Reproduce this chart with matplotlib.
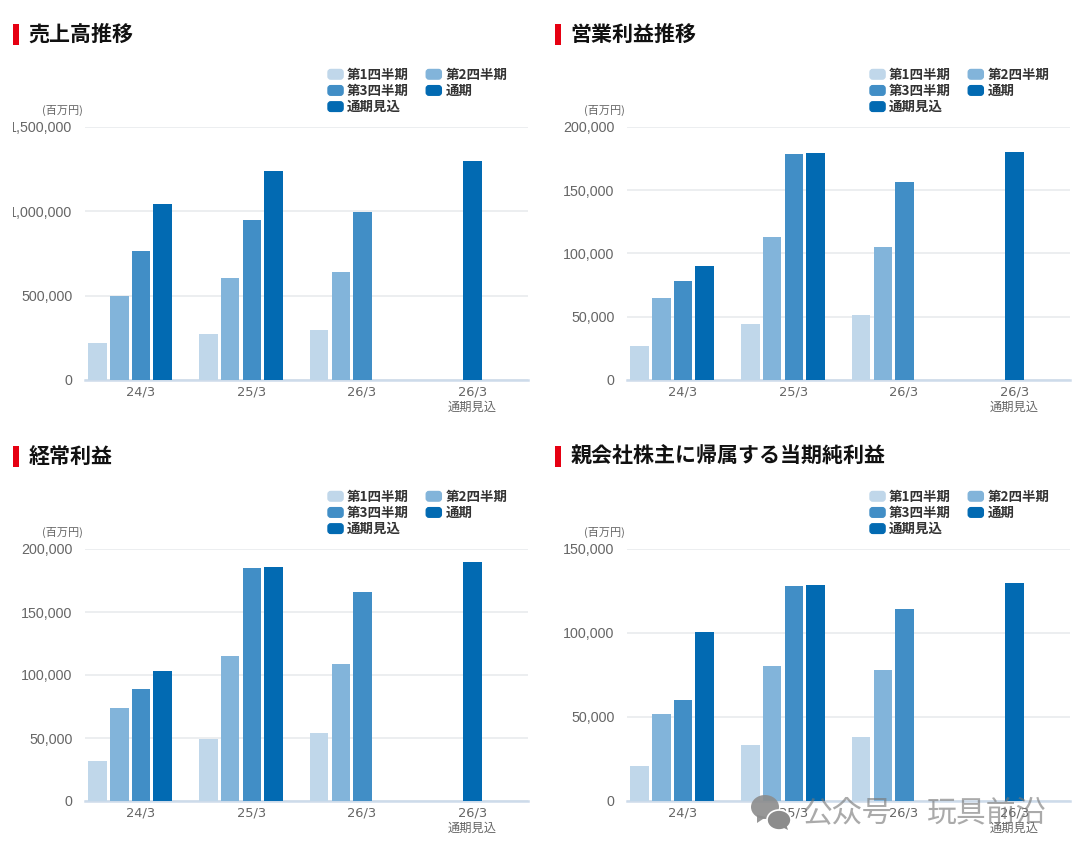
import numpy as np
import matplotlib
matplotlib.use("Agg")
import matplotlib.pyplot as plt
from matplotlib.legend_handler import HandlerPatch
from matplotlib.patches import Ellipse, FancyBboxPatch, Patch, Polygon, Rectangle
from matplotlib.transforms import Bbox

W, H = 1080, 857
JP = ["Noto Sans CJK JP", "DejaVu Sans"]
LATIN = ["Liberation Sans", "Noto Sans CJK JP"]

# data, in millions of yen
periods = ["24/3", "25/3", "26/3", "26/3"]
forecast_note = "通期見込"
series_names = ["第1四半期", "第2四半期", "第3四半期", "通期", "通期見込"]
colors = ["#c0d7ea", "#82b4da", "#418ec6", "#026ab2", "#026ab2"]

titles = ["売上高推移", "営業利益推移", "経常利益", "親会社株主に帰属する当期純利益"]
y_max = [1500000, 200000, 200000, 150000]
y_step = [500000, 50000, 50000, 50000]

q1 = [[219000, 273000, 296000], [27000, 44000, 51500],
      [32000, 49000, 54000], [21000, 33500, 38000]]
q2 = [[498000, 605000, 640000], [65000, 113000, 105000],
      [73500, 115000, 109000], [51500, 80500, 78000]]
q3 = [[765000, 949000, 996000], [78000, 178500, 156500],
      [88500, 185000, 166000], [60000, 128000, 114500]]
full_year = [[1043000, 1239000], [90000, 179500],
             [103500, 186000], [100500, 128500]]
forecast = [1298000, 180000, 190000, 130000]

fig = plt.figure(figsize=(W / 100, H / 100), dpi=100, facecolor="white")


def fx(x):
    return x / W


def fy(y):
    return 1 - y / H


def rounded_key(legend, orig_handle, xdescent, ydescent, width, height, fontsize):
    return FancyBboxPatch((-xdescent + 2, -ydescent + 2), width - 4, height - 4,
                          boxstyle="round,pad=2,rounding_size=2")


def draw_panel(i, left, top, bottom):
    ax = fig.add_axes([fx(left), fy(bottom), 443 / W, (bottom - top) / H])
    width = 0.167
    pitch = 0.196
    for j, vals in enumerate([q1[i], q2[i], q3[i], full_year[i]]):
        x = np.arange(len(vals)) + (j - 2) * pitch + 0.006
        ax.bar(x, vals, width, color=colors[j], zorder=3)
    ax.bar([3], [forecast[i]], width, color=colors[4], zorder=3)

    ax.set_xlim(-0.5, 3.5)
    ax.set_ylim(0, y_max[i])
    ax.set_yticks(np.arange(0, y_max[i] + 1, y_step[i]))
    ax.yaxis.set_major_formatter(lambda v, pos: f"{int(v):,}")
    ax.set_xticks(range(4), periods)
    ax.grid(axis="y", color="#e9ebee", lw=1.2, zorder=0)
    ax.set_axisbelow(True)
    for s in ["top", "right", "left"]:
        ax.spines[s].set_visible(False)
    ax.spines["bottom"].set_color("#cddbea")
    ax.spines["bottom"].set_linewidth(1.8)
    ax.tick_params(axis="both", length=0, labelcolor="#666666")
    ax.tick_params(axis="y", pad=9)
    ax.tick_params(axis="x", pad=4)
    for t in ax.get_yticklabels():
        t.set_family(LATIN)
        t.set_fontsize(10.3)
        # the source screenshot cuts off the leading digit of the long labels
        t.set_clip_box(Bbox([[12.5, 0], [W, H]]))
        t.set_clip_on(True)
    for t in ax.get_xticklabels():
        t.set_family("DejaVu Sans")
        t.set_fontsize(9.4)
    ax.annotate(forecast_note, (3, 0), xycoords="data", xytext=(0, -27),
                textcoords="offset pixels", family=JP, fontsize=8.8, color="#666666",
                ha="center", va="center", annotation_clip=False)

    # red marker and heading
    head_y = top - 93
    fig.add_artist(Rectangle((fx(left - 72), fy(head_y + 11)), 6 / W, 21 / H,
                             transform=fig.transFigure, color="#e60012", lw=0))
    fig.text(fx(left - 56.5), fy(head_y), titles[i], family=JP, fontsize=15.1,
             fontweight="bold", color="#111111", va="center", ha="left")
    fig.text(fx(left - 43), fy(top - 17), "(百万円)", family=JP, fontsize=8,
             color="#666666", va="center", ha="left")

    # filled column by column, so the list order is not the series order
    order = [0, 2, 4, 1, 3]
    handles = [Patch(color=colors[k], label=series_names[k]) for k in order]
    leg = ax.legend(handles=handles, ncols=2, frameon=False,
                    loc="upper left",
                    bbox_to_anchor=(fx(left + 243), fy(top - 59)),
                    bbox_transform=fig.transFigure,
                    prop={"family": JP, "size": 9.7, "weight": "bold"},
                    borderpad=0, borderaxespad=0, handlelength=1.12,
                    handleheight=0.72, handletextpad=0.3, labelspacing=0.16,
                    columnspacing=1.27, labelcolor="#333333",
                    handler_map={Patch: HandlerPatch(patch_func=rounded_key)})
    leg.set_zorder(5)


draw_panel(0, 85, 127, 380)
draw_panel(1, 627, 127, 380)
draw_panel(2, 85, 549, 801)
draw_panel(3, 627, 549, 801)

# watermark
grey = "#8c8c8c"
fig.add_artist(Ellipse((fx(765), fy(807)), 28 / W, 24 / H, transform=fig.transFigure,
                       color=grey, alpha=0.9, lw=0, zorder=6))
fig.add_artist(Polygon([[fx(757), fy(815)], [fx(757), fy(823)], [fx(766), fy(817)]],
                       transform=fig.transFigure, color=grey, alpha=0.9, lw=0, zorder=6))
fig.add_artist(Ellipse((fx(779), fy(820)), 24 / W, 20 / H, transform=fig.transFigure,
                       facecolor=grey, edgecolor="white", lw=1.2, zorder=7))
fig.add_artist(Polygon([[fx(782), fy(827)], [fx(788), fy(830)], [fx(786), fy(824)]],
                       transform=fig.transFigure, color=grey, lw=0, zorder=7))
fig.text(fx(803), fy(813), "公众号", family=JP, fontsize=21.5, color="#777777",
         alpha=0.62, va="center", ha="left", zorder=8)
fig.text(fx(926), fy(813), "玩具前沿", family=JP, fontsize=21.5, color="#777777",
         alpha=0.62, va="center", ha="left", zorder=8)

fig.savefig("out.png", dpi=100, facecolor="white")
